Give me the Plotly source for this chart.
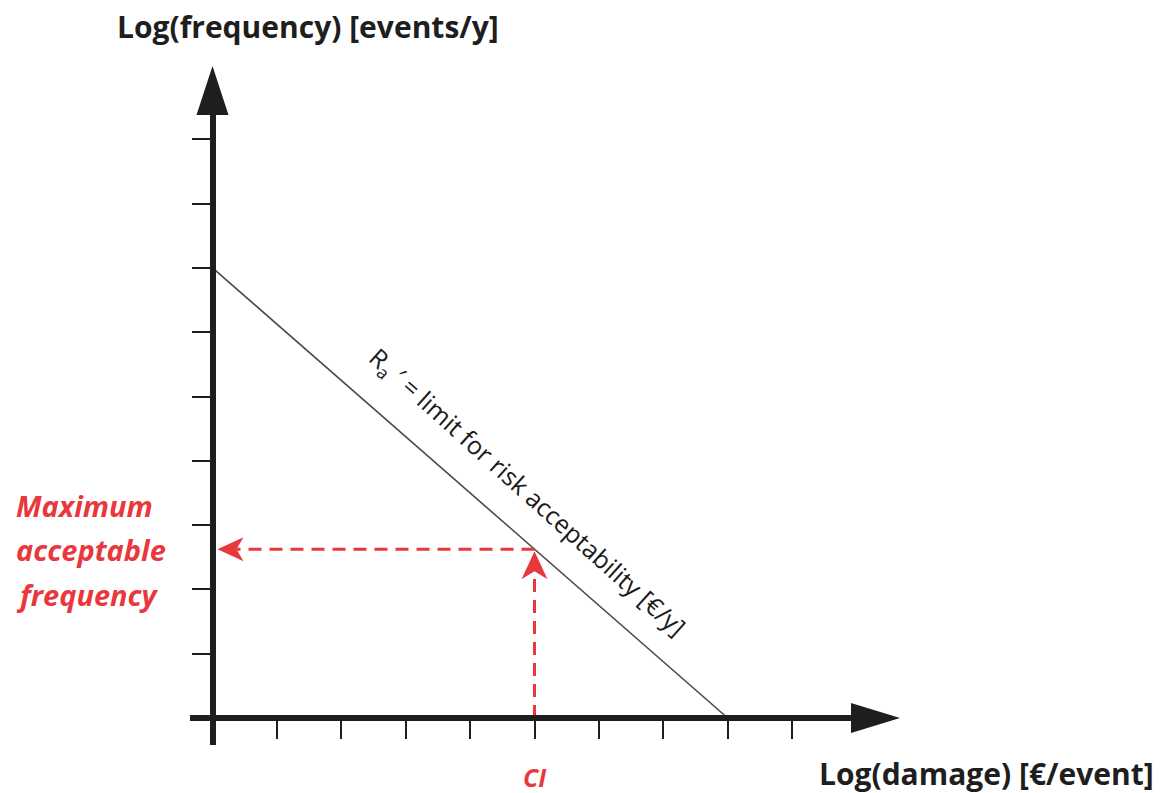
import plotly.graph_objects as go

# ---- data ----
x_ticks = [0, 1, 2, 3, 4, 5, 6, 7, 8, 9]
y_ticks = [0, 1, 2, 3, 4, 5, 6, 7, 8, 9]
limit_x = [0, 8]          # Log(damage) of limit line end points
limit_y = [7, 0]          # Log(frequency) of limit line end points
ci_value = 5              # CI position on damage axis
label_pos_x = 4.5         # where the limit label sits along the line

# ---- layout geometry (pixels) ----
W, H = 1161, 793
PL, PR, PT, PB = 190, 855, 112, 745     # plot area edges
X0_PX, Y0_PX = 212.5, 718               # pixel position of the origin
PX_X, PX_Y = 64.4, 64.3                 # pixels per unit
plot_w = PR - PL
plot_h = PB - PT
x_min = -(X0_PX - PL) / PX_X
x_max = x_min + plot_w / PX_X
y_min = -(PB - Y0_PX) / PX_Y
y_max = y_min + plot_h / PX_Y
yaxis_pos = (X0_PX - PL) / plot_w
xaxis_pos = (PB - Y0_PX) / plot_h

def paper_x(px):
    return (px - PL) / plot_w

def paper_y(py):
    return (PB - py) / plot_h

slope = (limit_y[1] - limit_y[0]) / (limit_x[1] - limit_x[0])
def on_line(x):
    return limit_y[0] + slope * (x - limit_x[0])

max_freq = on_line(ci_value)

BLACK = "#1e1e1e"
RED = "#e8383d"
FONT = "Open Sans"

fig = go.Figure()

# limit line
fig.add_trace(go.Scatter(x=limit_x, y=limit_y, mode="lines",
                         line=dict(color="#4a4a4a", width=1.6),
                         hoverinfo="skip", showlegend=False, cliponaxis=False))

# dashed red guides
fig.add_trace(go.Scatter(x=[ci_value, 0 + 24 / PX_X], y=[max_freq, max_freq], mode="lines",
                         line=dict(color=RED, width=3, dash="13px,8px"),
                         hoverinfo="skip", showlegend=False, cliponaxis=False))
fig.add_trace(go.Scatter(x=[ci_value, ci_value], y=[0, max_freq - 24 / PX_Y], mode="lines",
                         line=dict(color=RED, width=3, dash="13px,8px"),
                         hoverinfo="skip", showlegend=False, cliponaxis=False))

shapes = [
    # y-axis arrowhead
    dict(type="path", xref="paper", yref="paper", xsizemode="pixel", ysizemode="pixel",
         xanchor=yaxis_pos, yanchor=1, path="M -16,-3 L 16,-3 L 0,46 Z",
         fillcolor=BLACK, line=dict(width=0), layer="above"),
    # x-axis arrowhead
    dict(type="path", xref="paper", yref="paper", xsizemode="pixel", ysizemode="pixel",
         xanchor=1, yanchor=xaxis_pos, path="M -4,-15 L -4,15 L 45,0 Z",
         fillcolor=BLACK, line=dict(width=0), layer="above"),
    # red up arrowhead
    dict(type="path", xref="x", yref="y", xsizemode="pixel", ysizemode="pixel",
         xanchor=ci_value, yanchor=max_freq, path="M 0,-2 L 13,-30 L 0,-22 L -13,-30 Z",
         fillcolor=RED, line=dict(width=0)),
    # red left arrowhead
    dict(type="path", xref="x", yref="y", xsizemode="pixel", ysizemode="pixel",
         xanchor=0, yanchor=max_freq, path="M 5,0 L 31,12 L 24,0 L 31,-12 Z",
         fillcolor=RED, line=dict(width=0)),
]

annotations = [
    dict(text="<b>Log(frequency) [events/y]</b>", xref="paper", yref="paper",
         x=paper_x(308), y=paper_y(26), xanchor="center", yanchor="middle",
         showarrow=False, font=dict(family=FONT, size=30, color=BLACK)),
    dict(text="<b>Log(damage) [€/event]</b>", xref="paper", yref="paper",
         x=paper_x(986), y=paper_y(773), xanchor="center", yanchor="middle",
         showarrow=False, font=dict(family=FONT, size=30, color=BLACK)),
    dict(text="<b><i>CI</i></b>", xref="x", yref="paper",
         x=ci_value, xshift=0, y=paper_y(777), xanchor="center", yanchor="middle",
         showarrow=False, font=dict(family=FONT, size=25, color=RED)),
    dict(text="R<sub>a</sub> ′ = limit for risk acceptability [€/y]", xref="x", yref="y",
         x=label_pos_x, y=on_line(label_pos_x), xshift=25, yshift=29, textangle=42,
         showarrow=False, font=dict(family=FONT, size=25, color="#1a1a1a")),
]
for txt, dy in [("Maximum", 44), ("acceptable", 0), ("frequency", -45)]:
    annotations.append(dict(text=f"<b><i>{txt}</i></b>", xref="paper", yref="y",
                            x=paper_x(14), y=max_freq, yshift=dy,
                            xanchor="left", yanchor="middle", showarrow=False,
                            font=dict(family=FONT, size=29, color=RED)))

axis_common = dict(showgrid=False, zeroline=False, showline=True, linewidth=5.5,
                   linecolor=BLACK, ticks="outside", ticklen=18, tickwidth=2,
                   tickcolor=BLACK, showticklabels=False, fixedrange=True,
                   anchor="free")

fig.update_layout(
    width=W, height=H, autosize=False,
    margin=dict(l=PL, r=W - PR, t=PT, b=H - PB, pad=0),
    paper_bgcolor="white", plot_bgcolor="white",
    xaxis=dict(range=[x_min, x_max], tickvals=x_ticks, position=xaxis_pos, **axis_common),
    yaxis=dict(range=[y_min, y_max], tickvals=y_ticks, position=yaxis_pos, **axis_common),
    shapes=shapes, annotations=annotations, showlegend=False,
)

fig.write_html("out.html", config={"displayModeBar": False},
               post_script="document.body.style.margin='0';")
